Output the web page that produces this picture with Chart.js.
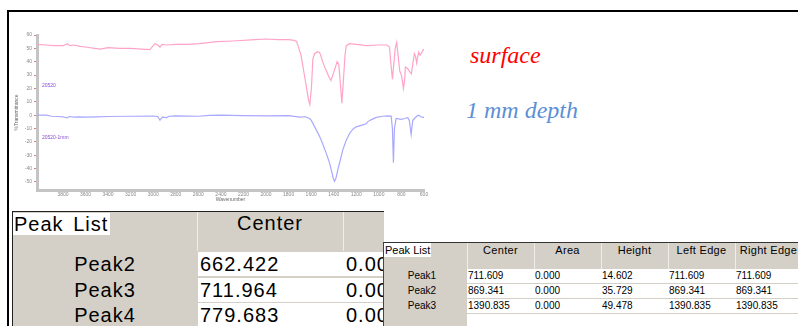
<!DOCTYPE html>
<html>
<head>
<meta charset="utf-8">
<script src="https://cdn.jsdelivr.net/npm/chart.js@4.4.0/dist/chart.umd.min.js"></script>
<style>
  body { margin:0; width:798px; height:326px; position:relative; overflow:hidden; background:#fff; font-family:Arial, "Liberation Sans", sans-serif; }
  #frame { position:absolute; left:7px; top:10px; width:800px; height:330px; border-top:2px solid #000; border-left:2px solid #000; }
  #plot { position:absolute; left:0; top:0; width:440px; height:210px; }
  .tag { position:absolute; font-size:5px; line-height:6px; color:#8a4fd0; white-space:nowrap; }
  .note { position:absolute; font-family:"Liberation Serif", "Times New Roman", serif; font-style:italic; font-size:24px; line-height:24px; white-space:nowrap; }
  .tbl { position:absolute; overflow:hidden; background:#d4d0c8; }
  .c { position:absolute; white-space:nowrap; overflow:hidden; color:#000; }
</style>
</head>
<body>
<div id="frame"></div>
<div id="plot"><canvas id="ir" width="440" height="210"></canvas></div>
<div class="tag" style="left:42px;top:82px">20520</div>
<div class="tag" style="left:42px;top:134px">20520-1mm</div>
<div class="note" style="left:470px;top:43px;color:#ff0000">surface</div>
<div class="note" style="left:466px;top:98px;color:#5b8fd6">1 mm depth</div>
<div id="tblL" class="tbl" style="left:12px;top:211px;width:371px;height:116px;border-top:1px solid #222;border-left:1px solid #222"></div>
<div id="tblR" class="tbl" style="left:383px;top:242px;width:420px;height:90px;border-top:1px solid #333;border-left:1px solid #444"></div>
<script>
// surface spectrum (pink)
const surfaceWn = [4030, 3950, 3880, 3800, 3760, 3740, 3700, 3650, 3600, 3520, 3470, 3400, 3300, 3200, 3100, 3030,
  2985, 2960, 2940, 2920, 2880, 2800, 2700, 2586, 2436, 2292, 2100, 2000, 1900, 1800, 1750, 1729, 1690, 1650,
  1625, 1612, 1598, 1585, 1570, 1545, 1525, 1490, 1450, 1425, 1400, 1370, 1355, 1340, 1328, 1315, 1300, 1289,
  1260, 1200, 1112, 1000, 930, 906, 895, 880, 868, 855, 842, 830, 815, 800, 782, 770, 765, 745, 730, 712, 700,
  685, 675, 665, 655, 647, 635, 626, 606, 600];
const surfaceT = [53, 52.5, 52, 52, 53.5, 52, 52.5, 51.5, 51, 50, 49.5, 50.5, 50, 50, 49.5, 49,
  53.5, 52.5, 51, 53, 52.5, 53, 53, 53.5, 55, 55.5, 56.5, 57, 56.5, 56.5, 56, 55, 45, 25,
  12, 8, 20, 42, 46, 47.5, 47, 38, 30, 26, 32, 40, 38, 22, 9, 25, 45, 52,
  53.5, 53, 52, 52.5, 52.5, 51, 40, 27, 38, 50, 54.5, 45, 33, 30, 20, 28, 36, 35, 33, 31, 38,
  46, 44, 39, 44, 47, 45, 46, 49, 49];

// 1 mm depth spectrum (blue)
const depthWn = [4030, 3950, 3900, 3850, 3800, 3766, 3740, 3700, 3660, 3600, 3500, 3400, 3200, 3000, 2960, 2940,
  2920, 2880, 2860, 2800, 2600, 2500, 2400, 2200, 2000, 1800, 1700, 1650, 1614, 1600, 1555, 1525, 1500, 1466,
  1440, 1422, 1405, 1393, 1380, 1364, 1340, 1320, 1290, 1260, 1230, 1201, 1150, 1112, 1100, 1070, 1024, 960,
  921, 891, 880, 871, 862, 847, 803, 770, 744, 730, 714, 700, 685, 660, 647, 630, 612, 600];
const depthT = [0, 0, -0.8, -1, -1.2, -2, -1, -1.5, -1.3, -1.5, -1.2, -1, -0.8, -0.7, -1, -3.7,
  -1.5, -1.8, -0.8, -0.5, -0.8, -0.2, 0, -0.3, -0.5, -0.3, -1.5, -1.2, -2.5, -3.7, -11, -16, -21, -28.6,
  -35, -41, -47, -49.5, -47, -41, -33, -26, -19, -13.7, -10.5, -8.7, -7.5, -6.5, -5, -3.5, -1.7, -0.8,
  -0.5, -0.7, -10, -35.5, -10, -2.5, -3.2, -2.5, -1.7, -4, -14.5, -4, -2.5, -0.5, 0, -1, -1.7, -1.7];

// peak tables
const peaksL = ['Peak2', 'Peak3', 'Peak4'];
const centerL = ['662.422', '711.964', '779.683'];
const areaL = ['0.000', '0.000', '0.000'];

const headR = ['Center', 'Area', 'Height', 'Left Edge', 'Right Edge'];
const peaksR = ['Peak1', 'Peak2', 'Peak3'];
const centerR = ['711.609', '869.341', '1390.835'];
const areaR = ['0.000', '0.000', '0.000'];
const heightR = ['14.602', '35.729', '49.478'];
const leftEdgeR = ['711.609', '869.341', '1390.835'];
const rightEdgeR = ['711.609', '869.341', '1390.835'];

const toPts = (xs, ys) => xs.map((x, i) => ({ x: x, y: ys[i] }));

const ctx = document.getElementById('ir').getContext('2d');
new Chart(ctx, {
  type: 'line',
  data: {
    datasets: [
      { label: 'surface', data: toPts(surfaceWn, surfaceT), borderColor: '#ffa3c8', borderWidth: 1.2, pointRadius: 0, tension: 0 },
      { label: '1 mm depth', data: toPts(depthWn, depthT), borderColor: '#a9a9ff', borderWidth: 1.2, pointRadius: 0, tension: 0 }
    ]
  },
  options: {
    responsive: false,
    animation: false,
    layout: { padding: { top: 35, right: 16, left: 0, bottom: 0 } },
    plugins: { legend: { display: false }, tooltip: { enabled: false } },
    scales: {
      x: {
        type: 'linear', reverse: true, min: 600, max: 4030,
        afterFit: s => { s.height = 20; },
        border: { display: true, color: '#c4c4c4', width: 3 },
        grid: { drawOnChartArea: false, drawTicks: true, tickLength: 2, color: '#e07a7a' },
        ticks: {
          stepSize: 50, autoSkip: false, maxRotation: 0, minRotation: 0, padding: 0,
          font: { size: 5 }, color: '#888',
          callback: v => (v % 200 === 0 && v < 4000) ? String(v) : ''
        },
        title: { display: true, text: 'Wavenumber', font: { size: 5 }, color: '#666', padding: { top: 0, bottom: 7 } }
      },
      y: {
        min: -56, max: 60,
        afterFit: s => { s.width = 37; },
        border: { display: true, color: '#c4c4c4', width: 3 },
        grid: { drawOnChartArea: false, drawTicks: true, tickLength: 3, color: '#e07a7a' },
        ticks: { stepSize: 10, padding: 2, font: { size: 5 }, color: '#888', callback: v => v % 10 === 0 ? v : null },
        title: { display: true, text: '%Transmittance', font: { size: 5 }, color: '#666', padding: { top: 14, bottom: 0 } }
      }
    }
  }
});

function cell(parent, x, y, w, h, style, text) {
  const d = document.createElement('div');
  d.className = 'c';
  d.style.left = x + 'px';
  d.style.top = y + 'px';
  if (w !== null) d.style.width = w + 'px';
  d.style.height = h + 'px';
  Object.assign(d.style, style || {});
  if (text) d.textContent = text;
  parent.appendChild(d);
  return d;
}

// left (large) table
const tL = document.getElementById('tblL');
const bigFont = { fontSize: '20px', letterSpacing: '1px' };
cell(tL, 184, 0, 1, 39, { background: '#eeede8' });
cell(tL, 330, 0, 1, 39, { background: '#eeede8' });
cell(tL, 0, 1, null, 22, Object.assign({ background: '#fff', lineHeight: '22px', padding: '0 2px 0 1px', wordSpacing: '3px' }, bigFont), 'Peak List');
cell(tL, 184, 0, 146, 22, Object.assign({ textAlign: 'center', lineHeight: '22px' }, bigFont), 'Center');
peaksL.forEach((p, i) => {
  const y = 40 + Math.round(i * 25.5);
  cell(tL, 0, y, 184, 24, Object.assign({ textAlign: 'center', lineHeight: '24px' }, bigFont), p);
  cell(tL, 185, y, 144, 24, Object.assign({ background: '#fff', lineHeight: '24px', paddingLeft: '2px' }, bigFont), centerL[i]);
  cell(tL, 331, y, 60, 24, Object.assign({ background: '#fff', lineHeight: '24px', paddingLeft: '2px' }, bigFont), areaL[i]);
});

// right (small) table
const tR = document.getElementById('tblR');
const colX = [0, 83, 150, 217, 284, 351];
const colW = 67;
const cols = [centerR, areaR, heightR, leftEdgeR, rightEdgeR];
colX.slice(1).forEach(x => cell(tR, x, 0, 1, 26, { background: '#eeede8' }));
cell(tR, 0, 0, null, 14, { background: '#fff', fontSize: '11px', lineHeight: '14px', padding: '0 1px' }, 'Peak List');
headR.forEach((h, j) => {
  cell(tR, colX[j + 1], 0, colW, 14, { textAlign: 'center', fontSize: '11px', lineHeight: '14px', letterSpacing: '0.3px' }, h);
});
for (let i = 0; i < 4; i++) {
  const y = 26 + i * 15;
  if (i < peaksR.length) cell(tR, 0, y, 76, 14, { textAlign: 'center', fontSize: '10px', lineHeight: '14px' }, peaksR[i]);
  cols.forEach((col, j) => {
    cell(tR, colX[j + 1], y, colW - 1, 14, { background: '#fff', fontSize: '10px', lineHeight: '14px', paddingLeft: '1px' }, i < col.length ? col[i] : '');
  });
}
</script>
</body>
</html>
